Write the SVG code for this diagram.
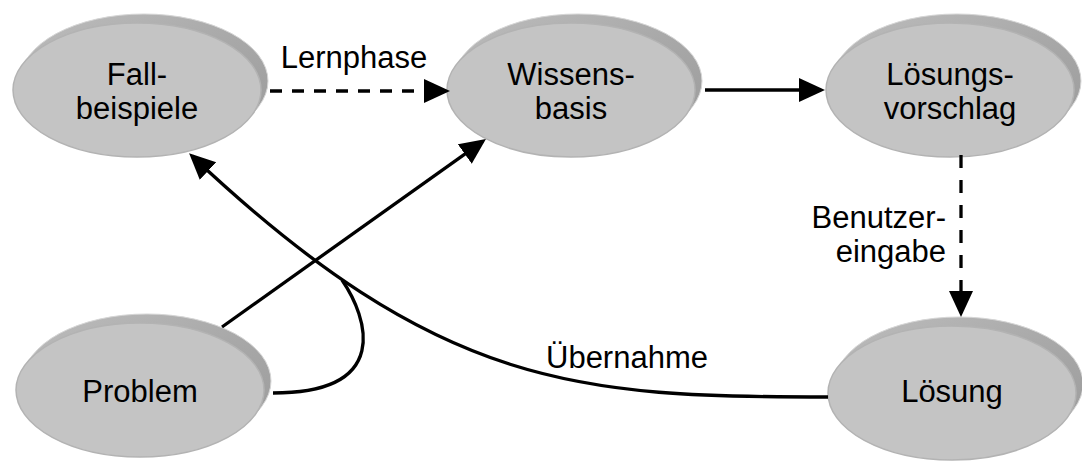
<svg xmlns="http://www.w3.org/2000/svg" width="1082" height="461" viewBox="0 0 1082 461">
  <defs>
    <linearGradient id="rim" x1="0" y1="0" x2="1" y2="1">
      <stop offset="0" stop-color="#bdbdbd"/>
      <stop offset="0.5" stop-color="#a9a9a9"/>
      <stop offset="1" stop-color="#9a9a9a"/>
    </linearGradient>
    <marker id="arrow" markerUnits="userSpaceOnUse" markerWidth="28" markerHeight="26" refX="22" refY="12" orient="auto">
      <path d="M0,0 L26,12 L0,24 Z" fill="#000"/>
    </marker>
    <!-- disc-shaped node: raised rim behind, flat face in front -->
    <g id="disc">
      <ellipse cx="7" cy="-9" rx="124" ry="67" fill="url(#rim)" stroke="#d6d6d6" stroke-width="1"/>
      <ellipse cx="0" cy="0" rx="124" ry="67" fill="#c4c4c4" stroke="#b3b3b3" stroke-width="1.5"/>
    </g>
  </defs>
  <style>
    text { font-family: "Liberation Sans", Arial, sans-serif; font-size: 31px; fill: #000; }
    .c { text-anchor: middle; }
    .r { text-anchor: end; }
    .edge { fill: none; stroke: #000; stroke-width: 3.3; }
    .dash-h { stroke-dasharray: 12 10; }
    .dash-v { stroke-dasharray: 13 12; }
  </style>

  <rect width="1082" height="461" fill="#fff"/>

  <g id="node-fallbeispiele">
    <use href="#disc" x="137" y="90"/>
    <text class="c" x="137" y="85">Fall-</text>
    <text class="c" x="137" y="119">beispiele</text>
  </g>

  <g id="node-wissensbasis">
    <use href="#disc" x="571" y="90"/>
    <text class="c" x="571" y="85">Wissens-</text>
    <text class="c" x="571" y="119">basis</text>
  </g>

  <g id="node-loesungsvorschlag">
    <use href="#disc" x="950" y="90"/>
    <text class="c" x="950" y="85">Lösungs-</text>
    <text class="c" x="950" y="119">vorschlag</text>
  </g>

  <g id="node-problem">
    <use href="#disc" x="140" y="390"/>
    <text class="c" x="140" y="402">Problem</text>
  </g>

  <g id="node-loesung">
    <use href="#disc" x="952" y="393"/>
    <text class="c" x="952" y="402">Lösung</text>
  </g>

  <g id="connectors">
    <path class="edge dash-h" d="M270,91 L446,91" marker-end="url(#arrow)"/>
    <path class="edge" d="M705,90 L821,90" marker-end="url(#arrow)"/>
    <path class="edge dash-v" d="M961,155 L961,313" marker-end="url(#arrow)"/>
    <path class="edge" d="M222,327 L482.7,141.3" marker-end="url(#arrow)"/>
    <path class="edge" d="M828,397 C580,397 440,390 192,156" marker-end="url(#arrow)"/>
    <path class="edge" d="M273,393 C392,393 368,318 342,280"/>
    <text class="c" x="354" y="68">Lernphase</text>
    <text class="r" x="946" y="228">Benutzer-</text>
    <text class="r" x="946" y="262">eingabe</text>
    <text class="c" x="627" y="368">Übernahme</text>
  </g>
</svg>
